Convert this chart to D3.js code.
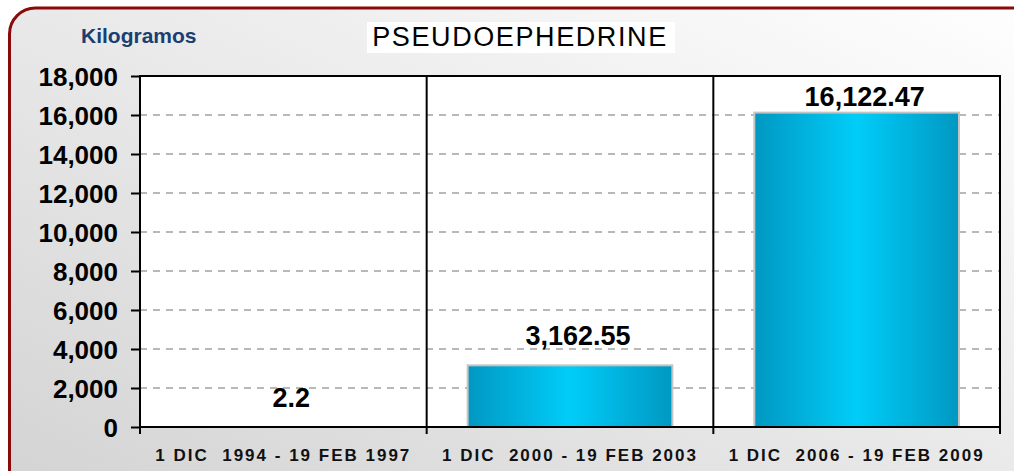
<!DOCTYPE html>
<html lang="es">
<head>
<meta charset="UTF-8">
<title>Pseudoephedrine</title>
<style>
  body { margin: 0; background: #fff; }
  svg { display: block; font-family: Arial, "Liberation Sans", sans-serif; }
  .ytick text { font-size: 26px; font-weight: bold; fill: #000; }
  .xlab { font-size: 17px; font-weight: bold; letter-spacing: 2px; fill: #111; }
  .val { font-size: 27px; font-weight: bold; fill: #000; }
</style>
</head>
<body>
<svg id="chart"></svg>
<script src="https://cdnjs.cloudflare.com/ajax/libs/d3/7.8.5/d3.min.js"></script>
<script>
var width = 1014;
var height = 471;

// data
var periods = ["1 DIC  1994 - 19 FEB 1997", "1 DIC  2000 - 19 FEB 2003", "1 DIC  2006 - 19 FEB 2009"];
var kilos = [2.2, 3162.55, 16122.47];
var kiloLabels = ["2.2", "3,162.55", "16,122.47"];
var yTicks = [0, 2000, 4000, 6000, 8000, 10000, 12000, 14000, 16000, 18000];

var margin = {left: 140, right: 14, top: 76, bottom: 44};

var svg = d3.select("#chart").attr("width", width).attr("height", height);
var defs = svg.append("defs");

// background gradient of the frame
var bg = defs.append("linearGradient").attr("id", "bg")
    .attr("x1", "100%").attr("y1", "0%").attr("x2", "0%").attr("y2", "100%");
bg.append("stop").attr("offset", "0%").attr("stop-color", "#ffffff");
bg.append("stop").attr("offset", "100%").attr("stop-color", "#d2d2d2");

// bar gradient, dark edges bright centre
var bar = defs.append("linearGradient").attr("id", "barfill")
    .attr("x1", "0%").attr("y1", "0%").attr("x2", "100%").attr("y2", "0%");
bar.append("stop").attr("offset", "0%").attr("stop-color", "#0098c2");
bar.append("stop").attr("offset", "50%").attr("stop-color", "#00cdf9");
bar.append("stop").attr("offset", "100%").attr("stop-color", "#0098c2");

// rounded frame running off the right and bottom edge
svg.append("rect")
    .attr("x", 9.5).attr("y", 8)
    .attr("width", width + 40).attr("height", height + 40)
    .attr("rx", 26).attr("ry", 26)
    .attr("fill", "url(#bg)")
    .attr("stroke", "#8a0a0a").attr("stroke-width", 3);

var x = d3.scaleBand()
    .domain(periods)
    .range([margin.left, width - margin.right])
    .padding(0);

var y = d3.scaleLinear()
    .domain([0, 18000])
    .range([height - margin.bottom, margin.top]);

var plotW = width - margin.right - margin.left;
var plotH = height - margin.bottom - margin.top;

// plot area
svg.append("rect")
    .attr("x", margin.left).attr("y", margin.top)
    .attr("width", plotW).attr("height", plotH)
    .attr("fill", "#fff");

// dashed grid lines
svg.append("g")
    .selectAll("line")
    .data(yTicks.filter(function(d) { return d > 0; }))
    .enter().append("line")
    .attr("x1", margin.left).attr("x2", width - margin.right)
    .attr("y1", function(d) { return y(d); })
    .attr("y2", function(d) { return y(d); })
    .attr("stroke", "#b8b8b8")
    .attr("stroke-width", 2)
    .attr("stroke-dasharray", "7,6");

// bars
var barW = x.bandwidth() * 0.714;
svg.append("g")
    .selectAll("rect")
    .data(kilos)
    .enter().append("rect")
    .attr("x", function(d, i) { return x(periods[i]) + (x.bandwidth() - barW) / 2; })
    .attr("y", function(d) { return y(d); })
    .attr("width", barW)
    .attr("height", function(d) { return y(0) - y(d); })
    .attr("fill", "url(#barfill)")
    .attr("stroke", "#c4c4c4")
    .attr("stroke-width", 2);

// category separators
svg.append("g")
    .selectAll("line")
    .data(periods.slice(1))
    .enter().append("line")
    .attr("x1", function(d) { return x(d); })
    .attr("x2", function(d) { return x(d); })
    .attr("y1", margin.top).attr("y2", y(0) + 7)
    .attr("stroke", "#000").attr("stroke-width", 2);

// plot frame
svg.append("rect")
    .attr("x", margin.left).attr("y", margin.top)
    .attr("width", plotW).attr("height", plotH)
    .attr("fill", "none")
    .attr("stroke", "#000").attr("stroke-width", 2);

// y axis
var yAxis = svg.append("g")
    .attr("transform", "translate(" + margin.left + ",0)")
    .call(d3.axisLeft(y).tickValues(yTicks).tickSize(9).tickPadding(13)
        .tickFormat(d3.format(",")));
yAxis.select(".domain").remove();
yAxis.selectAll(".tick").attr("class", "tick ytick");
yAxis.selectAll(".tick line").attr("stroke", "#000").attr("stroke-width", 2);
yAxis.selectAll(".tick text").attr("dy", "0.36em");

// bottom ticks at the outer edges
svg.append("g")
    .selectAll("line")
    .data([margin.left, width - margin.right])
    .enter().append("line")
    .attr("x1", function(d) { return d; }).attr("x2", function(d) { return d; })
    .attr("y1", y(0)).attr("y2", y(0) + 7)
    .attr("stroke", "#000").attr("stroke-width", 2);

// category labels
svg.append("g")
    .selectAll("text")
    .data(periods)
    .enter().append("text")
    .attr("class", "xlab")
    .attr("x", function(d) { return x(d) + x.bandwidth() / 2; })
    .attr("y", 461)
    .attr("text-anchor", "middle")
    .attr("xml:space", "preserve")
    .style("white-space", "pre")
    .text(function(d) { return d; });

// value labels
svg.append("g")
    .selectAll("text")
    .data(kilos)
    .enter().append("text")
    .attr("class", "val")
    .attr("x", function(d, i) { return x(periods[i]) + x.bandwidth() / 2 + 8; })
    .attr("y", function(d) { return Math.max(y(d) - 20, margin.top + 30); })
    .attr("text-anchor", "middle")
    .text(function(d, i) { return kiloLabels[i]; });

// unit label
svg.append("text")
    .attr("x", 81).attr("y", 42.5)
    .attr("font-size", 21).attr("font-weight", "bold")
    .attr("fill", "#1a3f73")
    .text("Kilogramos");

// title in a white box
svg.append("rect")
    .attr("x", 367).attr("y", 22)
    .attr("width", 308).attr("height", 31)
    .attr("fill", "#fff");
svg.append("text")
    .attr("x", 520).attr("y", 46)
    .attr("text-anchor", "middle")
    .attr("font-size", 27)
    .attr("letter-spacing", 1.6)
    .attr("fill", "#000")
    .text("PSEUDOEPHEDRINE");
</script>
</body>
</html>
